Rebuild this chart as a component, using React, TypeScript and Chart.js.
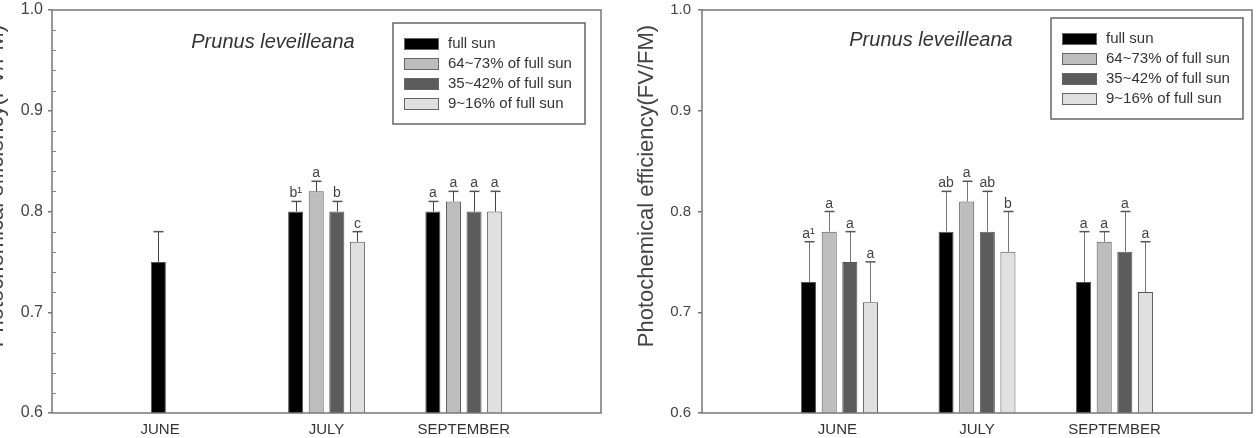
import React, { useEffect, useRef } from 'react';
import { Chart, registerables } from 'chart.js';

Chart.register(...registerables);

const FONT = '"Liberation Sans", Arial, sans-serif';

const MONTHS = ['JUNE', 'JULY', 'SEPTEMBER'];
const SERIES = ['full sun', '64~73% of full sun', '35~42% of full sun', '9~16% of full sun'];
const COLORS = ['#000000', '#bdbdbd', '#5c5c5c', '#e0e0e0'];
const TITLE = 'Prunus leveilleana';
const Y_TITLE = 'Photochemical efficiency(FV/FM)';
const Y_MIN = 0.6;
const Y_MAX = 1.0;
const Y_STEP = 0.1;
const MINOR_STEP = 0.02;

// Left panel: means
const L_FULL = [0.75, 0.8, 0.8];
const L_64 = [null, 0.82, 0.81];
const L_35 = [null, 0.8, 0.8];
const L_9 = [null, 0.77, 0.8];
// Left panel: error bar tops
const L_FULL_ERR = [0.78, 0.81, 0.81];
const L_64_ERR = [null, 0.83, 0.82];
const L_35_ERR = [null, 0.81, 0.82];
const L_9_ERR = [null, 0.78, 0.82];
// Left panel: letters
const L_FULL_LET = ['', 'b¹', 'a'];
const L_64_LET = ['', 'a', 'a'];
const L_35_LET = ['', 'b', 'a'];
const L_9_LET = ['', 'c', 'a'];

// Right panel: means
const R_FULL = [0.73, 0.78, 0.73];
const R_64 = [0.78, 0.81, 0.77];
const R_35 = [0.75, 0.78, 0.76];
const R_9 = [0.71, 0.76, 0.72];
// Right panel: error bar tops
const R_FULL_ERR = [0.77, 0.82, 0.78];
const R_64_ERR = [0.8, 0.83, 0.78];
const R_35_ERR = [0.78, 0.82, 0.8];
const R_9_ERR = [0.75, 0.8, 0.77];
// Right panel: letters
const R_FULL_LET = ['a¹', 'ab', 'a'];
const R_64_LET = ['a', 'a', 'a'];
const R_35_LET = ['a', 'ab', 'a'];
const R_9_LET = ['a', 'b', 'a'];

const pad = (a: any[]) => [null, ...a, null];

type Panel = {
  values: (number | null)[][];
  errs: (number | null)[][];
  letters: string[][];
  labelShift: number[];
  width: number;
  yWidth: number;
  padRight: number;
  tickFont: number;
  tickPad: number;
  minor: boolean;
  errColor: string;
  titleX: number;
  titleY: number;
  yTitleOffset: number;
  legendRight: number;
  legendTop: number;
};

const LEFT: Panel = {
  values: [L_FULL, L_64, L_35, L_9],
  errs: [L_FULL_ERR, L_64_ERR, L_35_ERR, L_9_ERR],
  letters: [L_FULL_LET, L_64_LET, L_35_LET, L_9_LET],
  labelShift: [14, 0, 0],
  width: 620,
  yWidth: 52,
  padRight: 19,
  tickFont: 16,
  tickPad: 5,
  minor: true,
  errColor: '#444',
  titleX: 273,
  titleY: 48,
  yTitleOffset: -55,
  legendRight: 16,
  legendTop: 13,
};

const RIGHT: Panel = {
  values: [R_FULL, R_64, R_35, R_9],
  errs: [R_FULL_ERR, R_64_ERR, R_35_ERR, R_9_ERR],
  letters: [R_FULL_LET, R_64_LET, R_35_LET, R_9_LET],
  labelShift: [1, 0, 0],
  width: 628,
  yWidth: 74,
  padRight: 4,
  tickFont: 15,
  tickPad: 7,
  minor: false,
  errColor: '#777',
  titleX: 303,
  titleY: 46,
  yTitleOffset: -55,
  legendRight: 9,
  legendTop: 8,
};

function makePlugin(p: Panel) {
  return {
    id: 'deco',
    afterDatasetsDraw(chart: any) {
      const ctx = chart.ctx;
      const ys = chart.scales.y;
      ctx.save();
      chart.data.datasets.forEach((ds: any, di: number) => {
        const meta = chart.getDatasetMeta(di);
        const errs = pad(p.errs[di]);
        const lets = pad(p.letters[di]);
        meta.data.forEach((bar: any, j: number) => {
          const v = ds.data[j];
          const e = errs[j];
          if (v == null || e == null) return;
          const ey = ys.getPixelForValue(e);
          const x = Math.round(bar.x) + 0.5;
          ctx.strokeStyle = p.errColor;
          ctx.lineWidth = 1;
          ctx.beginPath();
          ctx.moveTo(x, bar.y);
          ctx.lineTo(x, ey);
          ctx.stroke();
          ctx.strokeStyle = '#555';
          ctx.lineWidth = 1.5;
          ctx.beginPath();
          ctx.moveTo(x - 5, ey);
          ctx.lineTo(x + 5, ey);
          ctx.stroke();
          const t = lets[j];
          if (t) {
            ctx.fillStyle = '#444';
            ctx.font = `14px ${FONT}`;
            ctx.textAlign = 'center';
            ctx.textBaseline = 'alphabetic';
            ctx.fillText(t, bar.x, ey - 4);
          }
        });
      });
      ctx.restore();
    },
    afterDraw(chart: any) {
      const ctx = chart.ctx;
      const ca = chart.chartArea;
      const ys = chart.scales.y;
      ctx.save();
      // frame
      ctx.strokeStyle = '#777';
      ctx.lineWidth = 1.5;
      ctx.strokeRect(ca.left, ca.top, ca.right - ca.left, ca.bottom - ca.top);
      // minor ticks
      if (p.minor) {
        ctx.lineWidth = 1;
        ctx.strokeStyle = '#888';
        for (let k = 1; k < Math.round((Y_MAX - Y_MIN) / MINOR_STEP); k++) {
          if (k % 5 === 0) continue;
          const yy = Math.round(ys.getPixelForValue(Y_MIN + k * MINOR_STEP)) + 0.5;
          ctx.beginPath();
          ctx.moveTo(ca.left, yy);
          ctx.lineTo(ca.left + 4, yy);
          ctx.stroke();
        }
      }
      // title
      ctx.fillStyle = '#333';
      ctx.font = `italic 20px ${FONT}`;
      ctx.textAlign = 'center';
      ctx.textBaseline = 'alphabetic';
      ctx.fillText(TITLE, p.titleX, p.titleY);
      // y title
      ctx.save();
      ctx.translate(ca.left + p.yTitleOffset, 186);
      ctx.rotate(-Math.PI / 2);
      ctx.font = `22px ${FONT}`;
      ctx.textBaseline = 'middle';
      ctx.fillStyle = '#444';
      ctx.fillText(Y_TITLE, 0, 0);
      ctx.restore();
      // legend
      const bw = 192;
      const bh = 101;
      const bx = ca.right - p.legendRight - bw;
      const by = ca.top + p.legendTop;
      ctx.strokeStyle = '#666';
      ctx.lineWidth = 1.5;
      ctx.fillStyle = '#fff';
      ctx.fillRect(bx, by, bw, bh);
      ctx.strokeRect(bx, by, bw, bh);
      ctx.font = `15px ${FONT}`;
      ctx.textAlign = 'left';
      ctx.textBaseline = 'middle';
      SERIES.forEach((s, i) => {
        const cy = by + 21 + i * 20;
        ctx.fillStyle = COLORS[i];
        ctx.fillRect(bx + 11, cy - 6, 35, 12);
        ctx.strokeStyle = '#666';
        ctx.lineWidth = 1;
        ctx.strokeRect(bx + 11.5, cy - 5.5, 34, 11);
        ctx.fillStyle = '#333';
        ctx.fillText(s, bx + 55, cy);
      });
      ctx.restore();
    },
  };
}

function PanelChart({ p, left }: { p: Panel; left: number }) {
  const ref = useRef<HTMLCanvasElement | null>(null);
  useEffect(() => {
    if (!ref.current) return;
    const labels = ['', ...MONTHS, ''];
    const chart = new Chart(ref.current, {
      type: 'bar',
      data: {
        labels,
        datasets: p.values.map((v, i) => ({
          label: SERIES[i],
          data: pad(v),
          backgroundColor: COLORS[i],
          borderColor: '#555',
          borderWidth: 1,
          categoryPercentage: 0.6,
          barPercentage: 0.73,
        })),
      },
      options: {
        responsive: false,
        animation: false,
        devicePixelRatio: 1,
        layout: { padding: { left: 0, top: 10, right: p.padRight, bottom: 0 } },
        plugins: {
          legend: { display: false },
          tooltip: { enabled: false },
          title: { display: false },
        },
        scales: {
          x: {
            type: 'category',
            offset: false,
            grid: { display: false, drawTicks: false },
            border: { display: false },
            ticks: {
              autoSkip: false,
              maxRotation: 0,
              padding: 8,
              color: '#333',
              font: { family: FONT, size: 15 },
              callback: (_v: any, idx: number) => {
                const l = labels[idx];
                if (!l) return '';
                const n = p.labelShift[idx - 1] || 0;
                return l + ' '.repeat(n);
              },
            },
            afterFit: (s: any) => {
              s.height = 25;
              s.paddingLeft = 0;
              s.paddingRight = 0;
            },
          },
          y: {
            min: Y_MIN,
            max: Y_MAX,
            border: { display: false },
            grid: {
              display: true,
              drawOnChartArea: false,
              drawTicks: true,
              tickLength: 4,
              color: '#777',
              lineWidth: 1.5,
            },
            ticks: {
              stepSize: Y_STEP,
              padding: p.tickPad,
              color: '#444',
              font: { family: FONT, size: p.tickFont },
              callback: (v: any) => Number(v).toFixed(1),
            },
            afterFit: (s: any) => {
              s.width = p.yWidth;
              s.paddingTop = 0;
              s.paddingBottom = 0;
            },
          },
        },
      },
      plugins: [makePlugin(p)],
    } as any);
    return () => chart.destroy();
  }, [p]);
  return (
    <canvas
      ref={ref}
      width={p.width}
      height={438}
      style={{ position: 'absolute', left, top: 0, width: p.width, height: 438 }}
    />
  );
}

export default function App() {
  return (
    <div
      style={{
        position: 'fixed',
        left: 0,
        top: 0,
        width: 1256,
        height: 438,
        background: '#fff',
        overflow: 'hidden',
      }}
    >
      <PanelChart p={LEFT} left={0} />
      <PanelChart p={RIGHT} left={628} />
    </div>
  );
}
